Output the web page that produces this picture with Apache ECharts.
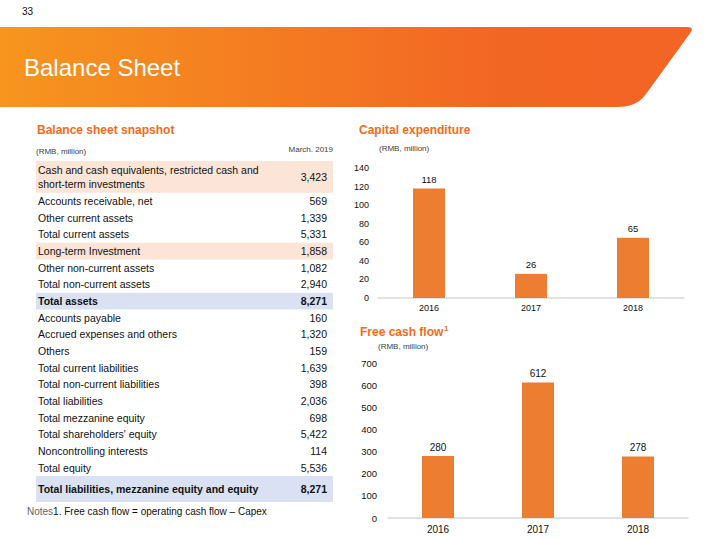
<!DOCTYPE html>
<html><head><meta charset="utf-8">
<script src="https://cdn.jsdelivr.net/npm/echarts@6/dist/echarts.min.js"></script>
<style>html,body{margin:0;padding:0;background:#fff}#c{width:720px;height:540px}</style>
</head><body><div id="c"></div>
<script>
// ---- data ----
const years = ['2016', '2017', '2018'];
const capex = [118, 26, 65];
const fcf = [280, 612, 278];
const tableLabels = [
  'Cash and cash equivalents, restricted cash and\nshort-term investments',
  'Accounts receivable, net',
  'Other current assets',
  'Total current assets',
  'Long-term Investment',
  'Other non-current assets',
  'Total non-current assets',
  'Total assets',
  'Accounts payable',
  'Accrued expenses and others',
  'Others',
  'Total current liabilities',
  'Total non-current liabilities',
  'Total liabilities',
  'Total mezzanine equity',
  "Total shareholders' equity",
  'Noncontrolling interests',
  'Total equity',
  'Total liabilities, mezzanine equity and equity'
];
const tableValues = ['3,423','569','1,339','5,331','1,858','1,082','2,940','8,271','160','1,320','159','1,639','398','2,036','698','5,422','114','5,536','8,271'];
const peachRows = [0, 4];
const blueRows = [7, 18];
const capexTicks = [0, 140, 20];
const fcfTicks = [0, 700, 100];

// ---- layout ----
const FONT = 'Liberation Sans, Arial, sans-serif';
const ORANGE = '#F26B21';
const BAR = '#ED7D31';
const TXT = '#111111';

function rowBox(i) {
  if (i === 0) return { top: 161, h: 31.7 };
  if (i === tableLabels.length - 1) return { top: 476, h: 26 };
  return { top: 192.7 + (i - 1) * 16.67, h: 16.67 };
}
function quad(p0, c, p1, n) {
  const out = [];
  for (let k = 1; k <= n; k++) {
    const t = k / n, u = 1 - t;
    out.push([u*u*p0[0] + 2*u*t*c[0] + t*t*p1[0], u*u*p0[1] + 2*u*t*c[1] + t*t*p1[1]]);
  }
  return out;
}
const bannerPts = [[0, 27], [687, 27]]
  .concat(quad([687, 27], [694, 27], [691, 32], 4))
  .concat([[646, 94]])
  .concat(quad([646, 94], [637, 107], [617, 107], 8))
  .concat([[0, 107]]);

const graphics = [];
graphics.push({
  type: 'polygon', silent: true,
  shape: { points: bannerPts },
  style: { fill: { type: 'linear', x: 0, y: 0, x2: 1, y2: 0, colorStops: [
    { offset: 0, color: '#F7951E' }, { offset: 0.72, color: '#F26624' }, { offset: 1, color: '#F26524' }] } }
});
graphics.push({ type: 'text', style: { text: 'Balance Sheet', x: 24, y: 67, fill: '#fff', font: '24px ' + FONT, textVerticalAlign: 'middle' } });
graphics.push({ type: 'text', style: { text: '33', x: 22, y: 11, fill: TXT, font: '10px ' + FONT, textVerticalAlign: 'middle' } });

graphics.push({ type: 'text', style: { text: 'Balance sheet snapshot', x: 37, y: 130, fill: ORANGE, font: 'bold 12px ' + FONT, textVerticalAlign: 'middle' } });
graphics.push({ type: 'text', style: { text: '(RMB, million)', x: 36, y: 151, fill: '#404040', font: '8px ' + FONT, textVerticalAlign: 'middle' } });
graphics.push({ type: 'text', style: { text: 'March. 2019', x: 333, y: 149, fill: '#404040', font: '8px ' + FONT, textAlign: 'right', textVerticalAlign: 'middle' } });

graphics.push({ type: 'text', style: { text: 'Capital expenditure', x: 359, y: 130, fill: ORANGE, font: 'bold 12px ' + FONT, textVerticalAlign: 'middle' } });
graphics.push({ type: 'text', style: { text: '(RMB, million)', x: 379, y: 148, fill: '#404040', font: '8px ' + FONT, textVerticalAlign: 'middle' } });
graphics.push({ type: 'text', style: { text: 'Free cash flow', x: 360, y: 332, fill: ORANGE, font: 'bold 12px ' + FONT, textVerticalAlign: 'middle' } });
graphics.push({ type: 'text', style: { text: '1', x: 444, y: 328, fill: ORANGE, font: 'bold 8px ' + FONT, textVerticalAlign: 'middle' } });
graphics.push({ type: 'text', style: { text: '(RMB, million)', x: 378, y: 346, fill: '#404040', font: '8px ' + FONT, textVerticalAlign: 'middle' } });

tableLabels.forEach((lab, i) => {
  const b = rowBox(i);
  const bold = blueRows.indexOf(i) >= 0;
  if (peachRows.indexOf(i) >= 0 || bold) {
    graphics.push({ type: 'rect', silent: true, shape: { x: 36, y: b.top, width: 297, height: b.h },
      style: { fill: bold ? '#D9E1F2' : '#FCE4D6' } });
  }
  const cy = b.top + b.h / 2;
  graphics.push({ type: 'text', style: { text: lab, x: 38, y: cy, fill: TXT,
    font: (bold ? 'bold ' : '') + '10.5px ' + FONT, lineHeight: 13.3, textVerticalAlign: 'middle' } });
  graphics.push({ type: 'text', style: { text: tableValues[i], x: 327, y: cy, fill: TXT,
    font: (bold ? 'bold ' : '') + '10.5px ' + FONT, textAlign: 'right', textVerticalAlign: 'middle' } });
});
graphics.push({ type: 'text', style: {
  text: '{a|Notes}{b|1. Free cash flow = operating cash flow \u2013 Capex}', x: 27, y: 511,
  textVerticalAlign: 'middle',
  rich: { a: { fill: '#666666', fontSize: 10, fontFamily: FONT }, b: { fill: TXT, fontSize: 10, fontFamily: FONT } }
} });

function xAxisCfg(gi, fs, margin) {
  return { type: 'category', gridIndex: gi, data: years,
    axisLine: { lineStyle: { color: '#D9D9D9', width: 1.5 } }, axisTick: { show: false },
    axisLabel: { color: TXT, fontSize: fs, fontFamily: FONT, margin: margin } };
}
function yAxisCfg(gi, t, fs, margin) {
  return { type: 'value', gridIndex: gi, min: t[0], max: t[1], interval: t[2],
    axisLine: { show: false }, axisTick: { show: false }, splitLine: { show: false },
    axisLabel: { color: TXT, fontSize: fs, fontFamily: FONT, margin: margin } };
}

const chart = echarts.init(document.getElementById('c'), null, { renderer: 'svg', width: 720, height: 540 });
chart.setOption({
  animation: false,
  backgroundColor: '#fff',
  grid: [
    { left: 378, right: 36, top: 168, bottom: 242 },
    { left: 388, right: 32, top: 363, bottom: 22 }
  ],
  xAxis: [xAxisCfg(0, 9, 5), xAxisCfg(1, 10, 6)],
  yAxis: [yAxisCfg(0, capexTicks, 9, 9), yAxisCfg(1, fcfTicks, 9.5, 11)],
  series: [
    { type: 'bar', xAxisIndex: 0, yAxisIndex: 0, data: capex, barWidth: 32,
      itemStyle: { color: BAR },
      label: { show: true, position: 'top', distance: 4, color: TXT, fontSize: 9.5, fontFamily: FONT } },
    { type: 'bar', xAxisIndex: 1, yAxisIndex: 1, data: fcf, barWidth: 32,
      itemStyle: { color: BAR },
      label: { show: true, position: 'top', distance: 4, color: TXT, fontSize: 10, fontFamily: FONT } }
  ],
  graphic: graphics
});
</script></body></html>
